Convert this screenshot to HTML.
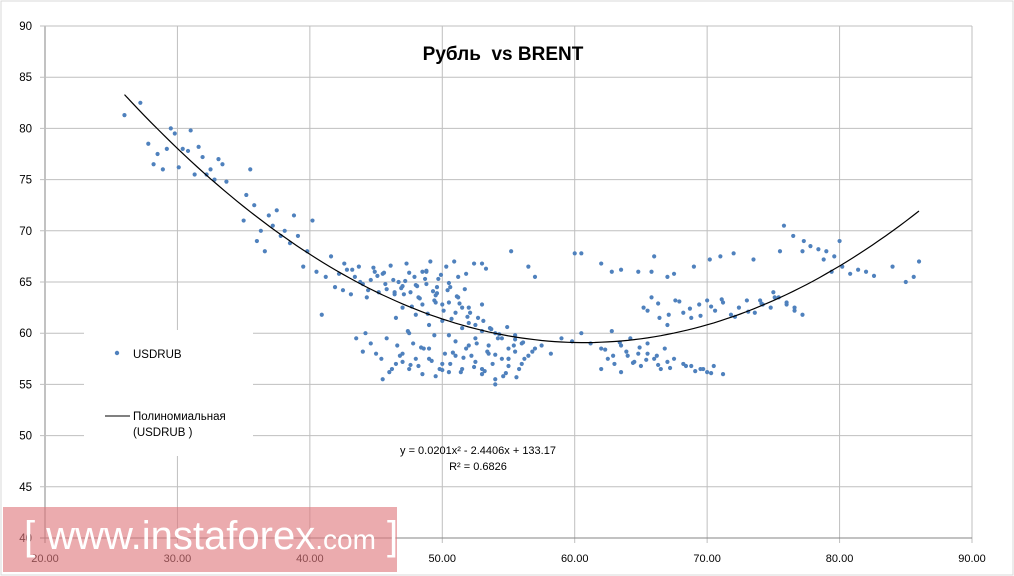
<!DOCTYPE html>
<html><head><meta charset="utf-8"><style>
body{margin:0;background:#fff;}
#c{position:relative;width:1014px;height:576px;overflow:hidden;font-family:"Liberation Sans",sans-serif;}
</style></head><body>
<div id="c">
<svg id="svg" width="1014" height="576" style="position:absolute;left:0;top:0">
<rect x="1" y="1" width="1012" height="574" fill="#fff" stroke="#d9d9d9"/>
<g id="grid"></g>
<g id="pts"></g>
<path id="trend" fill="none" stroke="#000" stroke-width="1.2"/>
<g id="ticks"></g>
<text x="503" y="60" text-anchor="middle" font-size="19" font-weight="bold" fill="#000" font-family="Liberation Sans, sans-serif">Рубль&#160; vs BRENT</text>
<g>
<rect x="84" y="330" width="169" height="126" fill="#fff"/>
<circle cx="117" cy="353" r="2.2" fill="#4f81bd"/>
<text x="133" y="358" font-size="11.5" fill="#000">USDRUB</text>
<line x1="105" y1="416" x2="130" y2="416" stroke="#000"/>
<text x="133" y="420" font-size="11.5" fill="#000">Полиномиальная</text>
<text x="133" y="436" font-size="11.5" fill="#000">(USDRUB )</text>
</g>
<text x="478" y="454" text-anchor="middle" font-size="11" fill="#000">y = 0.0201x² - 2.4406x + 133.17</text>
<text x="478" y="470" text-anchor="middle" font-size="11" fill="#000">R² = 0.6826</text>
</svg>
<div style="position:absolute;left:3px;top:507px;width:394px;height:65px;background:rgba(222,120,125,0.62);"></div>
<div style="position:absolute;left:24px;top:514px;color:#fff;font-size:40px;white-space:nowrap;">[ www.instaforex<span style="font-size:28px">.com</span> ]</div>
</div>
<script>
const xTicks=[20,30,40,50,60,70,80,90];
const yTicks=[40,45,50,55,60,65,70,75,80,85,90];
const coef=[0.0201,-2.4406,133.17];
const trendRange=[26,86];
const brent=[26,27.2,27.8,28.2,28.5,28.9,29.2,29.5,29.8,30.1,30.4,30.8,31.0,31.3,31.6,31.9,32.2,32.5,32.8,33.1,33.4,33.7,
35.0,35.2,35.5,35.8,36.0,36.3,36.6,36.9,37.2,37.5,37.8,38.1,38.5,38.8,39.1,39.5,39.8,40.2,40.5,40.9,41.2,41.6,
41.9,42.2,42.5,42.8,43.1,43.4,43.7,44.0,44.3,44.6,44.9,45.2,45.5,45.8,46.1,46.4,46.7,47.0,47.3,47.6,47.9,48.2,48.5,48.8,49.1,49.4,49.7,50.0,50.3,50.6,50.9,51.2,51.5,51.8,52.1,52.4,52.7,53.0,53.3,53.6,
44.2,44.6,45.0,45.4,45.8,46.2,46.6,47.0,47.4,47.8,48.2,48.6,49.0,49.4,49.8,50.2,50.6,51.0,51.4,51.8,52.2,52.6,53.0,53.4,53.8,54.2,54.6,55.0,55.4,55.8,
46.5,47.0,47.5,48.0,48.5,49.0,49.5,50.0,50.5,51.0,51.5,52.0,52.5,53.0,53.5,54.0,54.5,55.0,55.5,56.0,
45.5,46.0,46.5,47.0,47.5,48.0,48.5,49.0,49.5,50.0,50.5,51.0,51.5,52.0,52.5,53.0,53.5,54.0,54.5,55.0,55.5,56.0,56.5,57.0,
43.5,44.0,48.8,49.6,50.5,51.2,52.0,53.0,55.2,56.5,57.0,54.0,55.0,
56.2,56.8,57.5,58.2,59.0,59.8,60.5,61.2,62.0,62.8,63.5,64.2,64.8,65.5,66.2,66.8,67.5,68.2,68.8,69.5,70.0,70.5,71.2,
62.0,62.5,63.0,63.5,64.0,64.5,65.0,65.5,66.0,66.5,67.0,
60.0,60.5,63.5,64.8,65.8,67.0,
65.2,65.8,66.4,67.0,67.6,68.2,68.8,69.4,70.0,70.6,71.2,71.8,72.4,73.0,73.6,74.2,74.8,75.4,76.0,76.6,77.2,
62.0,62.8,66.0,67.5,69.0,70.2,71.0,72.0,73.5,75.5,
74.0,75.0,76.0,76.6,77.2,77.8,78.4,79.0,79.6,80.2,80.8,81.4,82.0,82.6,84.0,85.0,85.6,86.0,
76.5,75.8,77.3,78.8,79.4,80.0,
43.8,44.4,45.1,45.7,46.3,46.9,47.5,48.1,48.7,49.3,49.9,50.5,51.1,51.7,42.6,43.2,44.8,45.6,46.4,47.2,48.0,48.8,49.6,50.4,
47.1,47.7,48.3,48.9,49.5,50.1,50.7,51.3,51.9,52.5,53.1,53.7,54.3,54.9,55.5,56.1,
46.8,47.6,48.4,49.2,50.0,50.8,51.6,52.4,53.2,54.0,54.8,55.6,
62.3,62.9,63.4,63.9,64.4,64.9,65.4,66.3,67.2,68.4,69.1,69.7,70.3,
65.5,66.3,67.1,67.9,68.7,69.5,70.3,71.1,72.1,73.1,74.1,75.1];
const usdrub=[81.3,82.5,78.5,76.5,77.5,76.0,78.0,80.0,79.5,76.2,78.0,77.8,79.8,75.5,78.2,77.2,75.5,76.0,75.0,77.0,76.5,74.8,
71.0,73.5,76.0,72.5,69.0,70.0,68.0,71.5,70.5,72.0,69.5,70.0,68.8,71.5,69.5,66.5,68.0,71.0,66.0,61.8,65.5,67.5,
64.5,65.8,64.2,66.2,63.8,65.5,66.5,64.8,63.5,65.2,66.0,64.0,65.8,64.3,66.6,63.8,65.0,64.6,66.8,64.0,65.5,63.5,66.0,64.8,67.0,63.2,65.3,62.8,66.5,64.5,67.0,63.5,62.5,65.8,62.0,66.8,61.5,62.8,66.3,60.5,
60.0,59.0,58.0,57.5,59.5,56.5,58.8,57.2,60.2,59.0,56.8,58.5,57.5,59.8,56.5,58.0,57.0,59.2,56.2,58.5,57.8,59.0,56.5,58.2,57.0,59.5,55.8,57.5,58.8,56.5,
61.5,62.5,60.0,61.8,62.8,60.8,63.0,61.2,59.8,62.0,60.5,61.0,59.5,60.2,58.8,60.0,59.5,58.5,59.8,59.0,
55.5,56.2,57.0,58.0,56.5,57.5,56.0,58.5,55.8,57.0,56.2,57.8,56.5,58.8,57.2,56.0,58.0,55.5,57.5,56.8,58.2,57.0,57.8,58.5,
59.5,58.2,66.0,64.5,63.0,65.5,62.5,66.8,68.0,66.5,65.5,55.0,57.5,
57.5,58.2,58.8,58.0,59.5,59.2,60.0,59.0,58.5,60.2,58.8,59.5,58.0,59.0,57.8,58.5,57.5,57.0,56.8,56.5,56.2,56.8,56.0,
56.5,57.5,57.0,56.2,57.8,57.2,56.8,58.0,57.5,56.5,57.2,
67.8,67.8,66.2,66.0,66.0,65.5,
62.5,63.5,61.5,60.8,63.2,62.0,61.5,62.8,63.2,62.2,63.0,61.8,62.5,63.2,62.0,62.8,62.5,63.5,62.8,62.2,61.8,
66.8,66.0,67.5,65.8,66.5,67.2,67.5,67.8,67.2,68.0,
63.2,64.0,63.0,62.5,68.0,68.5,68.2,68.0,67.5,66.5,65.8,66.2,66.0,65.6,66.5,65.0,65.5,67.0,
69.5,70.5,69.0,67.2,66.0,69.0,
65.0,64.2,65.6,64.8,65.2,64.4,65.9,64.6,65.3,64.1,65.7,64.9,63.6,64.3,66.8,66.2,66.4,65.9,64.0,65.1,64.7,66.1,63.9,64.2,
63.8,62.6,63.4,61.9,63.7,62.2,61.4,62.9,61.6,60.8,61.2,60.4,59.9,60.6,59.4,59.1,
57.8,56.9,58.6,57.3,56.4,58.1,57.6,56.7,56.3,57.9,56.1,55.7,
58.4,57.8,59.1,58.2,57.1,58.6,57.4,56.9,56.6,56.8,56.3,56.5,56.1,
62.2,62.9,61.8,63.1,62.4,61.7,62.6,63.3,61.6,62.1,62.9,63.5];
const X=v=>45+(v-20)*(927/70);
const Y=v=>538-(v-40)*(512/50);
const NS='http://www.w3.org/2000/svg';
const grid=document.getElementById('grid'),ticks=document.getElementById('ticks'),pts=document.getElementById('pts');
xTicks.forEach(t=>{
  const l=document.createElementNS(NS,'line');
  l.setAttribute('x1',X(t));l.setAttribute('x2',X(t));l.setAttribute('y1',Y(90));l.setAttribute('y2',Y(40)+5);
  l.setAttribute('stroke',t===20?'#868686':'#bfbfbf');
  
  
  grid.appendChild(l);
  const tx=document.createElementNS(NS,'text');
  tx.setAttribute('x',X(t));tx.setAttribute('y',562);tx.setAttribute('text-anchor','middle');tx.setAttribute('font-size','11');
  tx.textContent=t.toFixed(2);
  
  
  ticks.appendChild(tx);
});
yTicks.forEach(t=>{
  const l=document.createElementNS(NS,'line');
  l.setAttribute('x1',X(20)-5);l.setAttribute('x2',X(90));l.setAttribute('y1',Y(t));l.setAttribute('y2',Y(t));
  l.setAttribute('stroke',t===40?'#868686':'#bfbfbf');
  
  
  grid.appendChild(l);
  const tx=document.createElementNS(NS,'text');
  tx.setAttribute('x',32);tx.setAttribute('y',Y(t)+4);tx.setAttribute('text-anchor','end');tx.setAttribute('font-size','11.5');
  tx.textContent=t;
  
  
  ticks.appendChild(tx);
});
brent.forEach((b,i)=>{
  if(usdrub[i]===undefined)return;
  const c=document.createElementNS(NS,'circle');
  c.setAttribute('cx',X(b));c.setAttribute('cy',Y(usdrub[i]));c.setAttribute('r',2.1);c.setAttribute('fill','#4f81bd');
  
  
  pts.appendChild(c);
});
let d='';
for(let v=trendRange[0];v<=trendRange[1]+0.001;v+=0.5){
  const yv=coef[0]*v*v+coef[1]*v+coef[2];
  d+=(d?'L':'M')+X(v).toFixed(1)+','+Y(yv).toFixed(1);
}
document.getElementById('trend').setAttribute('d',d);
</script>
</body></html>
